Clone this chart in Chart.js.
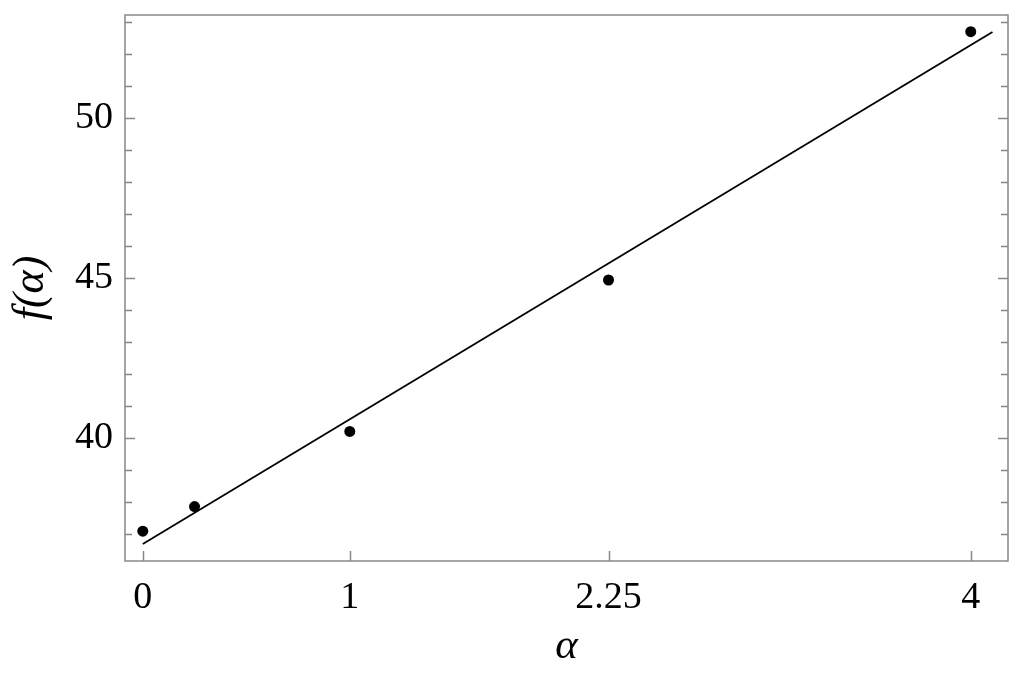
<!DOCTYPE html>
<html>
<head>
<meta charset="utf-8">
<script src="https://cdn.jsdelivr.net/npm/chart.js@4/dist/chart.umd.min.js"></script>
<style>
  html, body { margin: 0; padding: 0; background: #fff; }
  #wrap { width: 1024px; height: 675px; }
</style>
</head>
<body>
<div id="wrap"><canvas id="chart"></canvas></div>
<script>
// measured points
const alphaValues = [0, 0.25, 1, 2.25, 4];
const fValues = [37.10, 37.87, 40.22, 44.95, 52.71];

// fitted straight line (two ends)
const fitAlpha = [0, 4.105];
const fitValues = [36.70, 52.70];

const xTicks = [0, 1, 2.25, 4];
const xTickLabels = ["0", "1", "2.25", "4"];
const yTicks = [40, 45, 50];

const frameColor = "#888888";
const serif = "'Liberation Serif', 'DejaVu Serif', serif";

// frame + inward tick marks
const framePlugin = {
    id: "frame",
    afterDraw(chart) {
        const ctx = chart.ctx;
        const area = chart.chartArea;
        const xs = chart.scales.x;
        const ys = chart.scales.y;
        ctx.save();
        ctx.strokeStyle = frameColor;
        ctx.lineWidth = 1.5;
        ctx.strokeRect(area.left, area.top, area.right - area.left, area.bottom - area.top);

        ctx.beginPath();
        for (let v = Math.ceil(ys.min); v <= Math.floor(ys.max); v++) {
            const y = Math.round(ys.getPixelForValue(v)) + 0.5;
            const len = yTicks.includes(v) ? 10 : 7;
            ctx.moveTo(area.left, y);
            ctx.lineTo(area.left + len, y);
            ctx.moveTo(area.right, y);
            ctx.lineTo(area.right - len, y);
        }
        xTicks.forEach(v => {
            const x = Math.round(xs.getPixelForValue(v)) + 0.5;
            ctx.moveTo(x, area.bottom);
            ctx.lineTo(x, area.bottom - 10);
        });
        ctx.stroke();
        ctx.restore();
    }
};

const ctx = document.getElementById("chart").getContext("2d");
new Chart(ctx, {
    type: "scatter",
    data: {
        datasets: [
            {
                label: "fit",
                data: fitAlpha.map((a, i) => ({ x: a, y: fitValues[i] })),
                showLine: true,
                borderColor: "#000",
                borderWidth: 1.8,
                pointRadius: 0,
                fill: false
            },
            {
                label: "f",
                data: alphaValues.map((a, i) => ({ x: a, y: fValues[i] })),
                backgroundColor: "#000",
                borderColor: "#000",
                pointRadius: 5.5,
                pointBorderWidth: 0
            }
        ]
    },
    options: {
        responsive: true,
        maintainAspectRatio: false,
        animation: false,
        layout: { padding: { left: 0, top: 15, right: 16, bottom: 0 } },
        plugins: {
            legend: { display: false },
            tooltip: { enabled: false }
        },
        scales: {
            x: {
                type: "linear",
                min: -0.086,
                max: 4.18,
                afterBuildTicks: scale => {
                    scale.ticks = xTicks.map(v => ({ value: v }));
                },
                afterFit: scale => {
                    scale.height = 114;
                    scale.paddingLeft = 0;
                    scale.paddingRight = 0;
                },
                grid: { display: false, drawTicks: false },
                border: { display: false },
                ticks: {
                    color: "#000",
                    padding: 14,
                    maxRotation: 0,
                    autoSkip: false,
                    font: { family: serif, size: 38 },
                    callback: v => xTickLabels[xTicks.indexOf(v)]
                },
                title: {
                    display: true,
                    text: "α",
                    color: "#000",
                    font: { family: serif, size: 43, style: "italic" },
                    padding: { top: 0, bottom: 2 }
                }
            },
            y: {
                type: "linear",
                min: 36.17,
                max: 53.23,
                afterBuildTicks: scale => {
                    scale.ticks = yTicks.map(v => ({ value: v }));
                },
                afterFit: scale => {
                    scale.width = 125;
                    scale.paddingTop = 0;
                    scale.paddingBottom = 0;
                },
                grid: { display: false, drawTicks: false },
                border: { display: false },
                ticks: {
                    color: "#000",
                    padding: 12,
                    autoSkip: false,
                    font: { family: serif, size: 38 }
                },
                title: {
                    display: true,
                    text: "f(α)",
                    color: "#000",
                    font: { family: serif, size: 44, style: "italic" },
                    padding: { top: 5, bottom: 0 }
                }
            }
        }
    },
    plugins: [framePlugin]
});
</script>
</body>
</html>
